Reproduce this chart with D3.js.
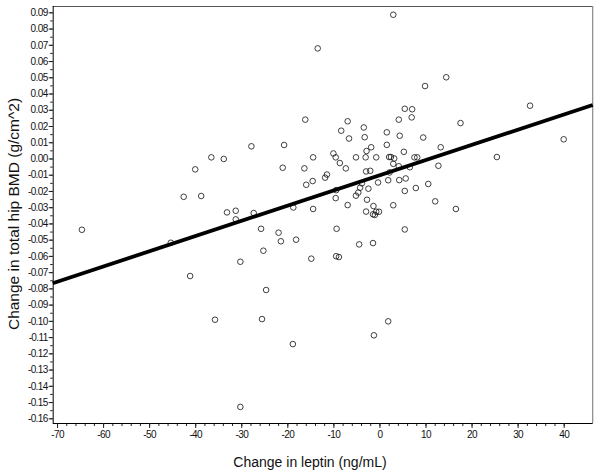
<!DOCTYPE html>
<html lang="en">
<head>
  <meta charset="UTF-8">
  <title>Change in leptin vs change in total hip BMD</title>
  <style>
    body { margin: 0; background: #fff; }
    svg { display: block; font-family: "Liberation Sans", Arial, sans-serif; }
  </style>
</head>
<body>
  <svg class="scatter"></svg>
  <script src="https://cdn.jsdelivr.net/npm/d3@7"></script>
  <script>
    // change in leptin (ng/mL) and change in total hip BMD (g/cm^2), one entry per subject
    var leptinChange = [
      -13.4, 3.0, -16.1, -27.8, -20.7, -36.5, -33.8, -40.0, -21.0, -16.3,
      -14.4, -15.9, -14.5, -11.8, -11.4, -42.5, -38.7, -18.7, -14.4, -33.1,
      -31.2, -31.2, -27.3, -64.6, -25.7, -21.9, -21.4, -18.1, -45.3, -25.2,
      -14.8, -30.2, -41.1, -24.6, -35.7, -25.5, -18.8, -30.2, 14.5, 9.9,
      32.7, 40.0, 17.6, 5.5, 7.1, 7.0, 4.2, -6.9, -8.3, -3.4,
      -6.6, -3.2, 1.6, 4.4, 9.5, 1.6, -1.8, -2.8, 13.3, 5.3,
      25.5, -10.0, -9.5, -5.1, -3.0, -0.7, 2.1, 2.5, 3.2, 7.6,
      8.2, -8.6, 3.0, 4.2, -7.3, 6.6, 12.8, -2.9, -2.0, 2.2,
      -3.8, -0.3, 1.9, 4.3, 5.7, 7.9, 10.6, 5.5, -2.4, -4.2,
      -4.6, -5.1, -9.5, -9.4, -2.7, 12.1, -6.9, 3.0, -1.3, 16.6,
      -2.9, -1.4, -1.0, -0.7, -0.1, -9.3, 5.5, -4.4, -1.4, -9.4,
      -8.8, 1.9, -1.2
    ];
    var bmdChange = [
      0.0678, 0.0885, 0.0239, 0.0075, 0.0083, 0.0007, -0.0003, -0.0067, -0.0057, -0.0061,
      0.0007, -0.0162, -0.0139, -0.0118, -0.0099, -0.0236, -0.0231, -0.0302, -0.0311, -0.0332,
      -0.0322, -0.0375, -0.0336, -0.0439, -0.0433, -0.0457, -0.0510, -0.0500, -0.0519, -0.0568,
      -0.0617, -0.0636, -0.0724, -0.0810, -0.0993, -0.0989, -0.1143, -0.1530, 0.0500, 0.0446,
      0.0325, 0.0118, 0.0218, 0.0306, 0.0303, 0.0253, 0.0239, 0.0229, 0.0171, 0.0191,
      0.0123, 0.0131, 0.0161, 0.0140, 0.0129, 0.0084, 0.0069, 0.0046, 0.0069, 0.0041,
      0.0009, 0.0031, 0.0007, 0.0007, 0.0007, 0.0007, 0.0009, 0.0009, 0.0000, 0.0007,
      0.0007, -0.0028, -0.0033, -0.0048, -0.0061, -0.0054, -0.0045, -0.0080, -0.0076, -0.0086,
      -0.0153, -0.0148, -0.0134, -0.0133, -0.0123, -0.0182, -0.0157, -0.0200, -0.0186, -0.0180,
      -0.0210, -0.0229, -0.0244, -0.0195, -0.0254, -0.0264, -0.0287, -0.0288, -0.0293, -0.0311,
      -0.0327, -0.0344, -0.0348, -0.0328, -0.0328, -0.0433, -0.0437, -0.0529, -0.0521, -0.0602,
      -0.0607, -0.1003, -0.1089
    ];

    // fitted regression line
    var fitIntercept = -0.0104;
    var fitSlope = 0.000936;

    var xTicks = d3.range(-70, 41, 10);
    var xMinor = d3.range(-70, 41, 2);
    var yTicks = d3.range(-16, 10).map(d => d / 100);
    var yMinor = d3.range(-32, 19).map(d => d / 200);

    var xDomain = [-70.94, 46.3];
    var yDomain = [-0.1629, 0.0939];

    var w = 600, h = 476;
    var m = {top: 6, right: 7.3, bottom: 53, left: 52.7};

    var svg = d3.select(".scatter").attr("width", w).attr("height", h);

    var x = d3.scaleLinear().domain(xDomain).range([m.left, w - m.right]);
    var y = d3.scaleLinear().domain(yDomain).range([h - m.bottom, m.top]);

    // frame: top and right borders
    svg.append("line")
      .attr("x1", m.left).attr("x2", w - m.right)
      .attr("y1", m.top + 0.5).attr("y2", m.top + 0.5)
      .attr("stroke", "#555").attr("stroke-width", 1);
    svg.append("line")
      .attr("x1", w - m.right).attr("x2", w - m.right)
      .attr("y1", m.top).attr("y2", h - m.bottom)
      .attr("stroke", "#888").attr("stroke-width", 1.2);

    // x axis
    var xAxis = svg.append("g").attr("transform", "translate(0," + (h - m.bottom) + ")");
    xAxis.call(d3.axisBottom(x).tickValues(xMinor).tickSize(3).tickFormat(""))
      .call(g => g.select(".domain").remove());
    var xMajor = svg.append("g").attr("transform", "translate(0," + (h - m.bottom) + ")")
      .call(d3.axisBottom(x).tickValues(xTicks).tickSize(5).tickPadding(3).tickFormat(d => String(d)));
    xMajor.select(".domain").attr("d", "M" + m.left + ",0.5H" + (w - m.right));
    xMajor.selectAll("text")
      .attr("font-size", "10px")
      .attr("letter-spacing", "-0.6px")
      .attr("fill", "#111");

    // y axis
    svg.append("g").attr("transform", "translate(" + m.left + ",0)")
      .call(d3.axisLeft(y).tickValues(yMinor).tickSize(2.5).tickFormat(""))
      .call(g => g.select(".domain").remove());
    var yMajor = svg.append("g").attr("transform", "translate(" + m.left + ",0)")
      .call(d3.axisLeft(y).tickValues(yTicks).tickSize(4).tickPadding(1)
        .tickFormat(d => (Math.round(d * 100) / 100).toFixed(2)));
    yMajor.select(".domain").attr("d", "M0.5," + m.top + "V" + (h - m.bottom));
    yMajor.selectAll("text")
      .attr("font-size", "10px")
      .attr("letter-spacing", "-0.6px")
      .attr("fill", "#111");

    svg.selectAll(".tick line").attr("stroke", "#222");

    // axis titles
    svg.append("text")
      .attr("x", 310).attr("y", 467)
      .attr("text-anchor", "middle")
      .attr("font-size", "14px")
      .attr("fill", "#111")
      .text("Change in leptin (ng/mL)");
    svg.append("text")
      .attr("transform", "translate(19,214) rotate(-90)")
      .attr("text-anchor", "middle")
      .attr("font-size", "15.5px")
      .attr("fill", "#111")
      .text("Change in total hip BMD (g/cm^2)");

    // points
    var points = leptinChange.map((d, i) => ({lep: d, bmd: bmdChange[i]}));
    svg.append("g").selectAll("circle")
      .data(points)
      .enter()
      .append("circle")
      .attr("cx", d => x(d.lep))
      .attr("cy", d => y(d.bmd))
      .attr("r", 2.8)
      .attr("fill", "none")
      .attr("stroke", "#111")
      .attr("stroke-width", 0.8);

    // regression line
    var line = d3.line()
      .x(d => x(d))
      .y(d => y(fitIntercept + fitSlope * d));
    svg.append("path")
      .attr("d", line(xDomain))
      .attr("fill", "none")
      .attr("stroke", "#000")
      .attr("stroke-width", 3.8);
  </script>
</body>
</html>
